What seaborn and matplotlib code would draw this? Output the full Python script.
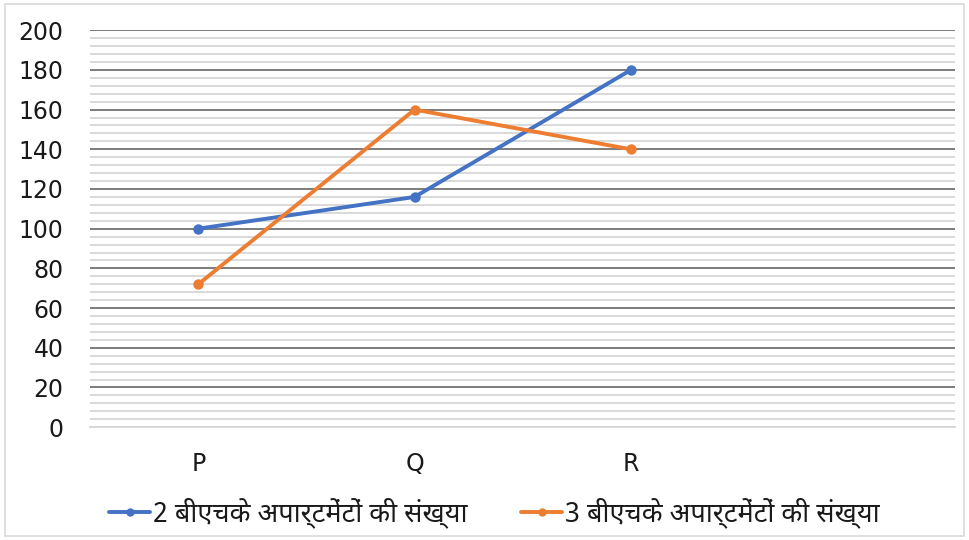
import pandas as pd
import numpy as np
import seaborn as sns
from matplotlib import pyplot as plt
from matplotlib.ticker import MultipleLocator
from matplotlib.patches import Rectangle

# डेटा
categories = ["P", "Q", "R"]
series_2bhk = [100, 116, 180]
series_3bhk = [72, 160, 140]
label_2bhk = "2 बीएचके अपार्टमेंटों की संख्या"
label_3bhk = "3 बीएचके अपार्टमेंटों की संख्या"

df = pd.DataFrame({
    "cat": categories * 2,
    "val": series_2bhk + series_3bhk,
    "serie": [label_2bhk] * 3 + [label_3bhk] * 3,
})

sns.set_style("white")
plt.rcParams["font.family"] = ["DejaVu Sans"]

fig = plt.figure(figsize=(9.69, 5.40), dpi=100)
ax = fig.add_axes([0.093, 0.209, 0.893, 0.735])

g = sns.lineplot(data=df, x="cat", y="val", hue="serie",
                 palette=["#4472C4", "#ED7D31"], marker="o", markersize=7.5,
                 markeredgewidth=0, linewidth=2.8, ax=ax, legend=True)

ax.set_xlim(-0.5, 3.5)
ax.set_ylim(0, 200)
ax.yaxis.set_major_locator(MultipleLocator(20))
ax.yaxis.set_minor_locator(MultipleLocator(4))
ax.grid(which="minor", axis="y", color="#d9d9d9", linewidth=1.4)
ax.grid(which="major", axis="y", color="#595959", linewidth=1.1)
ax.set_axisbelow(True)
for s in ["left", "right", "top"]:
    ax.spines[s].set_visible(False)
ax.spines["bottom"].set_color("#d9d9d9")
ax.spines["bottom"].set_linewidth(1.4)
ax.tick_params(axis="both", which="both", length=0, labelsize=17, colors="#1a1a1a")
ax.tick_params(axis="y", pad=19)
ax.tick_params(axis="x", pad=18)
ax.set_xlabel("")
ax.set_ylabel("")

handles, labels = ax.get_legend_handles_labels()
ax.legend_.remove()
leg = fig.legend(handles, labels, loc="center", bbox_to_anchor=(0.51, 0.05),
                 ncol=2, frameon=False, handlelength=1.5, handletextpad=0.1,
                 columnspacing=2.0, markerscale=0.8,
                 prop={"family": ["Noto Sans Devanagari", "DejaVu Sans"], "size": 19.5})
for t in leg.get_texts():
    t.set_color("#1a1a1a")

fig.patches.append(Rectangle((0.005, 0.008), 0.99, 0.984, transform=fig.transFigure,
                             fill=False, edgecolor="#d9d9d9", linewidth=1.2))

fig.savefig("out.png", dpi=100)
